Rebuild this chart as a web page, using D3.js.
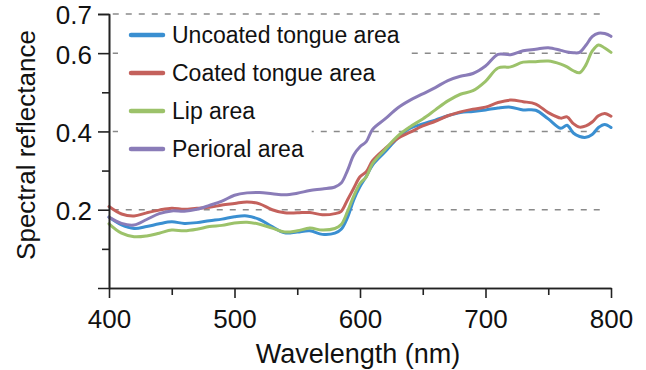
<!DOCTYPE html>
<html>
<head>
<meta charset="utf-8">
<script src="https://cdn.jsdelivr.net/npm/d3@7.9.0/dist/d3.min.js"></script>
<style>
  body { margin: 0; background: #fff; }
  svg { display: block; font-family: "Liberation Sans", Arial, Helvetica, sans-serif; }
</style>
</head>
<body>
<svg id="chart" width="646" height="370"></svg>
<script>
// wavelength samples (nm), shared by all four curves
const wavelengths = [400, 410, 420, 430, 440, 450, 460, 470, 480, 490, 500, 510, 520, 530, 540, 550, 560, 570, 580, 585,
  590, 595, 600, 605, 610, 620, 630, 640, 650, 660, 670, 680, 690, 700, 710, 720, 730, 740, 750, 760,
  765, 770, 775, 780, 785, 790, 795, 800];

const uncoated = [0.181, 0.161, 0.152, 0.157, 0.164, 0.169, 0.165, 0.167, 0.172, 0.176, 0.182, 0.184, 0.175, 0.157, 0.141, 0.143, 0.146, 0.137, 0.140, 0.150,
  0.180, 0.225, 0.259, 0.285, 0.314, 0.348, 0.383, 0.408, 0.419, 0.429, 0.440, 0.448, 0.451, 0.455, 0.460, 0.462, 0.455, 0.454, 0.432, 0.408,
  0.416, 0.396, 0.387, 0.385, 0.392, 0.410, 0.418, 0.410];

const coated = [0.208, 0.189, 0.184, 0.192, 0.199, 0.204, 0.201, 0.204, 0.206, 0.212, 0.216, 0.220, 0.215, 0.200, 0.192, 0.192, 0.193, 0.187, 0.190, 0.196,
  0.225, 0.255, 0.284, 0.297, 0.325, 0.356, 0.382, 0.398, 0.414, 0.426, 0.440, 0.450, 0.457, 0.462, 0.474, 0.480, 0.476, 0.470, 0.448, 0.434,
  0.437, 0.420, 0.411, 0.414, 0.424, 0.440, 0.446, 0.439];

const lip = [0.164, 0.140, 0.131, 0.133, 0.140, 0.148, 0.146, 0.150, 0.157, 0.160, 0.166, 0.168, 0.163, 0.153, 0.143, 0.146, 0.153, 0.148, 0.152, 0.162,
  0.195, 0.235, 0.267, 0.284, 0.318, 0.354, 0.388, 0.412, 0.432, 0.455, 0.478, 0.495, 0.504, 0.528, 0.562, 0.565, 0.577, 0.578, 0.580, 0.572,
  0.565, 0.555, 0.550, 0.570, 0.605, 0.621, 0.613, 0.602];

const perioral = [0.181, 0.165, 0.161, 0.175, 0.190, 0.197, 0.196, 0.201, 0.211, 0.222, 0.237, 0.243, 0.244, 0.241, 0.238, 0.242, 0.249, 0.253, 0.258, 0.268,
  0.300, 0.340, 0.361, 0.374, 0.405, 0.432, 0.460, 0.480, 0.496, 0.512, 0.530, 0.541, 0.548, 0.567, 0.597, 0.596, 0.606, 0.610, 0.614, 0.607,
  0.603, 0.601, 0.602, 0.620, 0.642, 0.651, 0.650, 0.643];

const seriesNames = ['Uncoated tongue area', 'Coated tongue area', 'Lip area', 'Perioral area'];
const seriesValues = [uncoated, coated, lip, perioral];
const seriesColors = ['#3a8fd1', '#c4615c', '#9cc26a', '#8a7cb8'];

const xMajorTicks = [400, 500, 600, 700, 800];
const xMinorTicks = [450, 550, 650, 750];
const yMajorTicks = [0.2, 0.4, 0.6, 0.7];
const yMinorTicks = [0.1, 0.3, 0.5];
const gridLevels = [0.2, 0.4, 0.6, 0.7];

const svg = d3.select('#chart');

let x = d3.scaleLinear().domain([400, 800]).range([109, 611]);
let y = d3.scaleLinear().domain([0, 0.7]).range([288, 14]);

// dashed reference lines
svg.append('g')
  .selectAll('line')
  .data(gridLevels)
  .join('line')
  .attr('x1', x(403))
  .attr('x2', x(793))
  .attr('y1', d => y(d))
  .attr('y2', d => y(d))
  .attr('stroke', '#8a8a8a')
  .attr('stroke-width', 1.5)
  .attr('stroke-dasharray', '6,7');

// curves
let line = d3.line()
  .x((d, i) => x(wavelengths[i]))
  .y(d => y(d))
  .curve(d3.curveCatmullRom.alpha(0.5));

seriesValues.forEach((vals, i) => {
  svg.append('path')
    .attr('d', line(vals))
    .attr('fill', 'none')
    .attr('stroke', seriesColors[i])
    .attr('stroke-width', 3)
    .attr('stroke-linejoin', 'round')
    .attr('stroke-linecap', 'round');
});

// axes
function styleAxis(g) {
  g.selectAll('path, line').attr('stroke', '#222').attr('stroke-width', 1.6);
  g.selectAll('text').attr('fill', '#111').style('font-size', '26px').style('font-family', null);
}

svg.append('g')
  .attr('transform', `translate(0,${y(0)})`)
  .call(d3.axisBottom(x).tickValues(xMinorTicks).tickSize(7).tickSizeOuter(0).tickFormat(''))
  .call(styleAxis);

svg.append('g')
  .attr('transform', `translate(0,${y(0)})`)
  .call(d3.axisBottom(x).tickValues(xMajorTicks).tickSize(10).tickSizeOuter(0).tickPadding(12))
  .call(styleAxis);

svg.append('g')
  .attr('transform', `translate(${x(400)},0)`)
  .call(d3.axisLeft(y).tickValues(yMinorTicks).tickSize(7).tickSizeOuter(0).tickFormat(''))
  .call(styleAxis);

svg.append('g')
  .attr('transform', `translate(${x(400)},0)`)
  .call(d3.axisLeft(y).tickValues(yMajorTicks).tickSize(11).tickSizeOuter(11).tickPadding(6).tickFormat(d3.format('.1f')))
  .call(styleAxis)
  .call(g => g.selectAll('text').attr('dy', '0.38em'));

// axis titles
svg.append('text')
  .attr('x', 358)
  .attr('y', 363)
  .attr('text-anchor', 'middle')
  .style('font-size', '27px')
  .attr('fill', '#111')
  .text('Wavelength (nm)');

svg.append('text')
  .attr('transform', 'translate(35,145) rotate(-90)')
  .attr('text-anchor', 'middle')
  .style('font-size', '26px')
  .attr('fill', '#111')
  .text('Spectral reflectance');

// legend, each row on its own white box
let legend = svg.append('g').attr('transform', 'translate(118,35)');

seriesNames.forEach((name, i) => {
  let row = legend.append('g').attr('transform', `translate(0,${i * 38})`);
  let box = row.append('rect').attr('fill', '#fff');
  row.append('line')
    .attr('x1', 13).attr('x2', 45)
    .attr('y1', 0).attr('y2', 0)
    .attr('stroke', seriesColors[i])
    .attr('stroke-width', 4.5)
    .attr('stroke-linecap', 'round');
  let label = row.append('text')
    .attr('x', 54)
    .attr('y', 8)
    .style('font-size', '23px')
    .attr('fill', '#111')
    .text(name);
  let w = label.node().getComputedTextLength();
  box.attr('x', 0).attr('y', -20).attr('width', 54 + w + 8).attr('height', 40);
});
</script>
</body>
</html>
